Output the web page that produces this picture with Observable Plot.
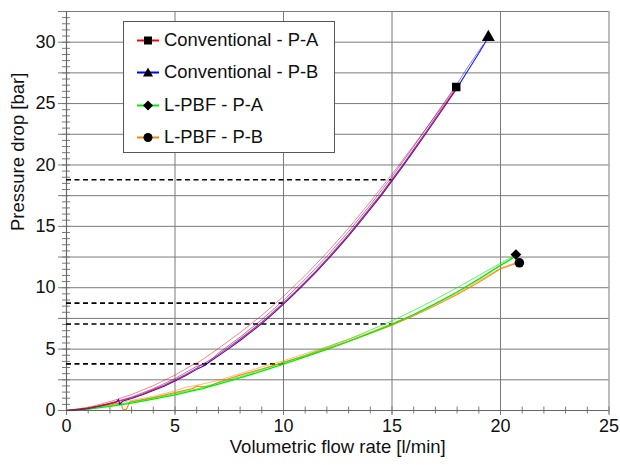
<!DOCTYPE html>
<html>
<head>
<meta charset="utf-8">
<script src="https://cdn.jsdelivr.net/npm/d3@7"></script>
<script src="https://cdn.jsdelivr.net/npm/@observablehq/plot@0.6"></script>
<style>
  html, body { margin: 0; padding: 0; background: #fff; }
  #wrap { position: relative; width: 620px; height: 465px; font-family: "Liberation Sans", Arial, sans-serif; }
  #legend { position: absolute; left: 123px; top: 21px; width: 212px; height: 132px; border: 1.5px solid #555; background: #fff; box-sizing: border-box; }
  .row { position: absolute; left: 0; height: 24px; display: flex; align-items: center; }
  .row svg { margin-left: 13px; }
  .row span { margin-left: 5px; font-size: 18.4px; color: #111; white-space: nowrap; }
</style>
</head>
<body>
<div id="wrap"><div id="legend"></div></div>
<script>
// ---------- data ----------
const seriesNames = ["Conventional - P-A", "Conventional - P-B", "L-PBF - P-A", "L-PBF - P-B"];
const seriesColors = ["#ff0000", "#0000ff", "#00ee00", "#ff8000"];
const seriesSymbols = ["square", "triangle", "diamond2", "circle"];

// Conventional P-A (red), main trace
const convA1_q = [0,0.5,1,1.5,2,2.5,3,3.5,4,4.5,5,5.5,6,6.2,6.5,7,7.5,8,8.5,9,9.5,10,10.5,11,11.5,12,12.5,13,13.5,14,14.5,15,15.5,16,16.5,17,17.5,18];
const convA1_p = [0,0.06,0.18,0.37,0.56,0.8,1.04,1.34,1.7,2.06,2.48,2.94,3.45,3.7,3.98,4.55,5.18,5.82,6.5,7.2,7.97,8.76,9.6,10.47,11.38,12.32,13.32,14.33,15.42,16.52,17.63,18.82,20.02,21.27,22.52,23.82,25.07,26.35];
// Conventional P-A (red), second pass
const convA2_q = [0,1,2,3,4,5,5.8,6.1,7,8,9,10,11,12,13,14,15,16,17,17.9];
const convA2_p = [0,0.25,0.72,1.3,2.02,2.88,3.7,3.95,5.05,6.35,7.75,9.3,11.0,12.85,14.85,17.0,19.25,21.6,24.0,26.2];
// Conventional P-B (blue), main trace
const convB1_q = [0,0.5,1,1.5,2,2.3,2.4,2.45,2.6,3,3.5,4,4.5,5,5.5,6,6.3,6.5,7,7.5,8,8.5,9,9.5,10,10.5,11,11.5,12,12.5,13,13.5,14,14.5,15,15.5,16,16.5,17,17.5,18,18.5,19,19.44];
const convB1_p = [0,0.05,0.16,0.34,0.55,0.7,0.9,0.5,0.78,0.98,1.28,1.62,1.98,2.4,2.85,3.35,3.6,3.85,4.45,5.06,5.7,6.38,7.08,7.85,8.66,9.5,10.37,11.28,12.22,13.2,14.22,15.3,16.4,17.5,18.7,19.9,21.15,22.4,23.68,24.98,26.28,27.7,29.1,30.4];
// Conventional P-B (blue), second pass
const convB2_q = [0,1,2,3,4,5,6,6.2,6.4,7,8,9,10,11,12,13,14,15,16,17,18,18.5,19.2];
const convB2_p = [0,0.2,0.6,1.1,1.78,2.6,3.6,3.7,3.65,4.68,5.98,7.4,8.98,10.7,12.56,14.58,16.75,19.05,21.5,24.05,26.6,28.0,29.8];
// L-PBF P-A (green), main trace
const lpA1_q = [0,1,2,3,4,5,5.5,6,6.3,6.5,7,8,9,10,11,12,13,14,15,16,17,18,19,20,20.5,20.7];
const lpA1_p = [0,0.12,0.34,0.6,0.93,1.28,1.48,1.68,1.78,1.9,2.15,2.65,3.2,3.78,4.36,4.98,5.62,6.3,7.02,7.82,8.7,9.65,10.7,11.82,12.35,12.6];
// L-PBF P-A (green), second pass
const lpA2_q = [0,2,4,6,8,10,11,12,13,14,15,16,17,18,19,20,20.6];
const lpA2_p = [0,0.38,1.0,1.75,2.75,3.9,4.5,5.15,5.8,6.55,7.3,8.15,9.05,10.0,11.0,12.0,12.55];
// L-PBF P-B (orange), main trace
const lpB1_q = [0,1,2,2.5,2.6,2.75,2.9,3,4,5,5.8,6,6.3,6.6,7,8,9,10,11,12,13,14,15,16,17,18,19,20,20.85];
const lpB1_p = [0,0.15,0.45,0.62,0.1,0.05,0.66,0.72,1.05,1.45,1.78,1.98,1.92,2.0,2.3,2.88,3.38,3.92,4.45,5.05,5.65,6.3,6.95,7.72,8.55,9.45,10.45,11.55,12.05];
// L-PBF P-B (orange), second pass
const lpB2_q = [0,2,4,5,5.5,6,7,8,9,10,12,14,16,18,20,20.8];
const lpB2_p = [0,0.5,1.15,1.6,1.9,2.05,2.45,3.0,3.55,4.05,5.2,6.4,7.8,9.55,11.6,12.1];

// end-point markers
const markerQ = [17.96, 19.44, 20.71, 20.87];
const markerP = [26.35, 30.4, 12.7, 12.03];

// dashed reference lines (flow, pressure)
const refQ = [10, 15, 10, 15];
const refP = [8.75, 18.8, 3.8, 7.05];

// ticks and titles
const xMajor = [0, 5, 10, 15, 20, 25];
const xGrid = [5, 10, 15, 20, 25];
const xMinor = d3.range(0, 25.01, 1);
const yLines = [0, 2.5, 5, 7.5, 10, 12.5, 15, 17.5, 20, 22.5, 25, 27.5, 30, 32.5];
const yMinor = d3.range(0, 32.51, 0.5);
const xTitle = "Volumetric flow rate [l/min]";
const yTitle = "Pressure drop [bar]";

// ---------- build tables ----------
const traces = [
  {q: convA2_q, p: convA2_p, color: seriesColors[0], w: 0.9, o: 0.55},
  {q: lpB2_q, p: lpB2_p, color: seriesColors[3], w: 0.9, o: 0.6},
  {q: lpB1_q, p: lpB1_p, color: seriesColors[3], w: 1.2, o: 0.9},
  {q: lpA2_q, p: lpA2_p, color: seriesColors[2], w: 0.9, o: 0.7},
  {q: lpA1_q, p: lpA1_p, color: seriesColors[2], w: 1.3, o: 1},
  {q: convB2_q, p: convB2_p, color: seriesColors[1], w: 0.9, o: 0.55},
  {q: convB1_q, p: convB1_p, color: seriesColors[1], w: 1.1, o: 0.9},
  {q: convA1_q, p: convA1_p, color: seriesColors[0], w: 1.1, o: 0.85}
];
const lineMarks = traces.map(t =>
  Plot.line(t.q.map((q, i) => ({q, p: t.p[i]})), {x: "q", y: "p", stroke: t.color, strokeWidth: t.w, strokeOpacity: t.o, curve: "linear"})
);
const markers = markerQ.map((q, i) => ({q, p: markerP[i], s: seriesSymbols[i]}));
const refs = refQ.map((q, i) => ({q, p: refP[i]}));

const grey = "#7a7a7a";
const chart = Plot.plot({
  width: 620, height: 465,
  marginLeft: 66, marginRight: 11.5, marginTop: 11, marginBottom: 55,
  style: {fontFamily: "Liberation Sans, Arial, sans-serif", fontSize: "18px", color: "#111", background: "#fff"},
  x: {domain: [0, 25]},
  y: {domain: [0, 32.5]},
  marks: [
    Plot.gridY(yLines, {stroke: grey, strokeOpacity: 1, strokeWidth: 1}),
    Plot.gridX(xGrid, {stroke: grey, strokeOpacity: 1, strokeWidth: 1}),
    Plot.axisY(yLines, {tickSize: 8, tickPadding: 3, stroke: grey, tickFormat: d => (d % 5 === 0 && d <= 30) ? d : "", label: null, fontSize: 18}),
    Plot.axisY(yMinor, {tickSize: 8, dx: 4, stroke: grey, tickFormat: () => "", label: null}),
    Plot.axisX(xMajor, {tickSize: 5, tickPadding: 4, stroke: grey, label: null, fontSize: 18}),
    Plot.axisX(xMinor, {tickSize: 7, dy: -3.5, stroke: grey, tickFormat: () => "", label: null}),
    Plot.ruleX([0], {stroke: "#666", strokeWidth: 1.2}),
    Plot.ruleY([0], {stroke: "#666", strokeWidth: 1.2}),
    Plot.text([yTitle], {frameAnchor: "left", rotate: -90, dx: -48, dy: 20, fontSize: 18.5, fill: "#111"}),
    Plot.text([xTitle], {frameAnchor: "bottom", dy: 42, fontSize: 18.5, fill: "#111"}),
    Plot.ruleY(refs, {x1: 0, x2: "q", y: "p", stroke: "#000", strokeWidth: 1.6, strokeDasharray: "5,3.5"}),
    ...lineMarks,
    Plot.dot(markers, {x: "q", y: "p", symbol: "s", fill: "#000", r: 4.8})
  ]
});
const wrap = document.getElementById("wrap");
wrap.insertBefore(chart, wrap.firstChild);

// ---------- legend (HTML overlay) ----------
const legend = document.getElementById("legend");
const rowTops = [6, 38, 71, 103];
const symbolPaths = {
  square: "M7,2.5h8v8h-8z",
  triangle: "M11,1.5L16,10.5H6z",
  diamond2: "M11,1.5L16,6.5L11,11.5L6,6.5z",
  circle: ""
};
seriesNames.forEach((name, i) => {
  const row = document.createElement("div");
  row.className = "row";
  row.style.top = rowTops[i] + "px";
  const sym = seriesSymbols[i];
  const shape = sym === "circle"
    ? `<circle cx="11" cy="6.5" r="4.5" fill="#000"/>`
    : `<path d="${symbolPaths[sym]}" fill="#000"/>`;
  row.innerHTML = `<svg width="22" height="13" viewBox="0 0 22 13"><line x1="0" x2="22" y1="6.5" y2="6.5" stroke="${seriesColors[i]}" stroke-width="2"/>${shape}</svg><span>${name}</span>`;
  legend.appendChild(row);
});
</script>
</body>
</html>
